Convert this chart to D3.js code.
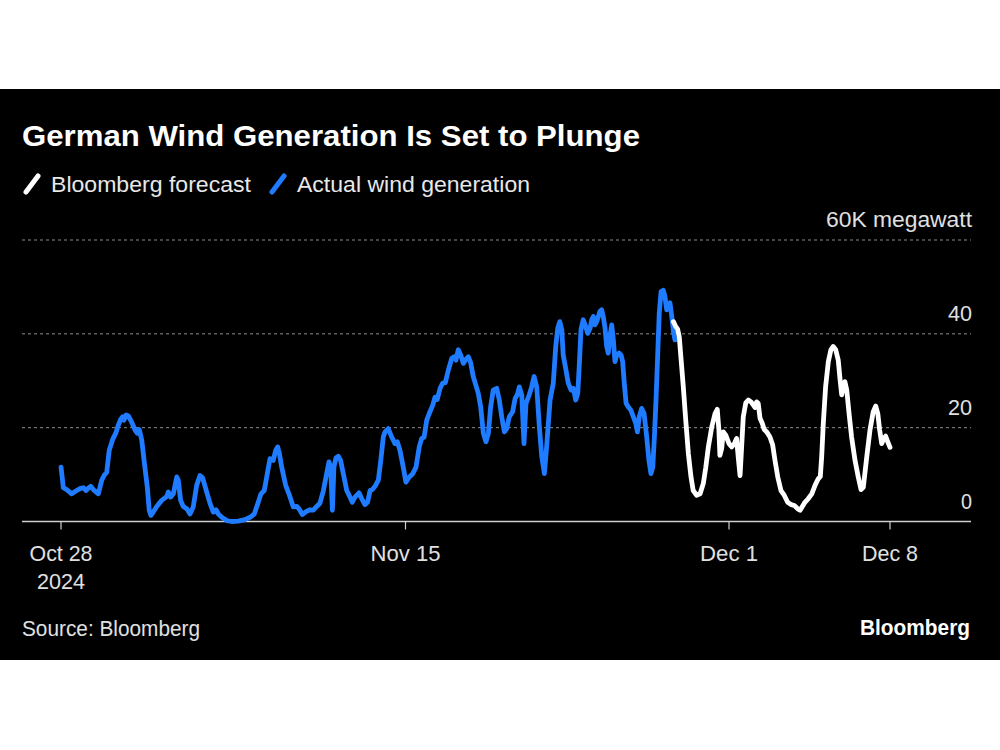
<!DOCTYPE html>
<html><head><meta charset="utf-8">
<script src="https://cdn.jsdelivr.net/npm/d3@7"></script>
<style>
body{margin:0;background:#fff;}
svg{display:block;}
text{font-family:"Liberation Sans",Arial,sans-serif;}
</style>
</head><body><svg id="chart" width="1000" height="750"></svg>
<script>
// ---- data (thousand megawatts, days since Oct 28 2024) ----
const xTickDays = [0, 18, 34, 41];
const xTickLabels = [["Oct 28", "2024"], ["Nov 15"], ["Dec 1"], ["Dec 8"]];
const yTicks = [0, 20, 40, 60];
const yTickLabels = ["0", "20", "40", "60K megawatt"];

const actualDays = [
 0,0.08,0.12,0.30,0.56,0.78,0.99,1.17,1.31,1.43,1.55,1.69,1.95,2.13,2.25,2.39,2.52,2.70,2.87,2.99,
 3.12,3.22,3.29,3.40,3.52,3.69,3.87,3.99,4.09,4.22,4.35,4.51,4.61,4.70,4.82,5.00,5.26,5.52,5.61,5.73,
 5.87,6.05,6.13,6.25,6.39,6.57,6.74,6.91,7.09,7.26,7.40,7.61,7.79,7.96,8.10,8.22,8.40,8.66,8.92,9.26,
 9.61,9.88,10.10,10.28,10.45,10.62,10.75,10.92,11.09,11.22,11.32,11.41,11.53,11.74,11.91,12.14,12.32,12.44,12.61,12.84,
 13.01,13.18,13.36,13.53,13.71,13.88,14.00,14.09,14.18,14.26,14.37,14.49,14.61,14.75,14.93,15.10,15.22,15.36,15.57,15.71,
 15.88,16.02,16.15,16.27,16.41,16.58,16.70,16.84,16.93,17.10,17.28,17.45,17.57,17.71,17.88,18.02,18.19,18.36,18.52,18.68,
 18.80,18.92,19.05,19.21,19.35,19.46,19.57,19.71,19.84,19.97,20.12,20.29,20.40,20.50,20.61,20.73,20.86,20.99,21.11,21.22,
 21.35,21.49,21.60,21.72,21.85,21.98,22.10,22.21,22.34,22.51,22.64,22.76,22.89,23.01,23.13,23.30,23.42,23.53,23.63,23.75,
 23.86,23.96,24.12,24.24,24.36,24.49,24.62,24.74,24.87,24.98,25.15,25.31,25.43,25.53,25.63,25.73,25.80,25.92,26.05,26.19,
 26.30,26.42,26.52,26.60,26.68,26.79,26.91,27.01,27.13,27.21,27.29,27.37,27.46,27.54,27.62,27.70,27.78,27.87,27.95,28.03,
 28.11,28.20,28.28,28.36,28.45,28.56,28.66,28.74,28.82,28.91,29.02,29.15,29.27,29.39,29.47,29.56,29.68,29.80,29.93,30.04,
 30.14,30.23,30.31,30.39,30.47,30.55,30.64,30.75,30.83,30.92,31.00,31.08,31.17,31.25,31.33
];
const actualValues = [
 11.6,8.8,7.2,6.8,5.9,6.5,7.0,7.2,6.6,7.1,7.5,6.8,5.9,8.8,9.8,10.5,15.2,17.5,18.9,20.5,
 21.8,22.3,21.6,22.7,22.5,21.2,19.5,18.8,19.6,17.3,12.7,7.3,2.4,1.3,2.0,3.2,4.5,5.3,6.3,5.2,
 5.9,9.5,8.8,4.5,3.2,2.7,1.6,3.1,7.7,9.8,9.3,6.3,3.8,2.0,2.5,1.6,0.9,0.2,0.0,0.1,
 0.4,0.9,1.6,3.8,5.9,6.6,9.5,13.4,13.0,15.2,15.9,14.5,11.6,7.7,5.9,3.1,3.2,2.7,1.5,2.2,
 2.5,2.4,3.2,3.9,6.6,10.2,12.7,11.6,2.4,11.6,13.6,13.9,13.0,10.2,6.6,5.2,4.1,5.2,6.1,4.9,
 3.6,4.1,6.6,6.8,7.5,8.8,12.7,18.0,19.1,19.8,18.0,16.6,17.0,15.2,11.6,8.4,9.5,10.2,11.6,15.9,
 17.7,18.0,21.6,23.4,24.8,26.5,26.0,28.4,29.5,29.6,32.3,34.8,35.1,34.4,36.6,35.5,33.7,34.6,35.1,33.9,
 30.9,28.9,27.3,24.4,18.8,17.0,18.8,24.4,28.0,28.4,25.9,22.3,19.1,19.8,22.3,23.4,26.2,27.0,28.7,27.0,
 16.6,25.2,27.0,28.7,30.9,28.7,20.2,13.8,10.2,15.9,25.9,29.5,37.3,41.2,42.6,40.9,35.5,32.7,29.5,28.0,
 28.4,25.9,27.3,33.7,40.9,43.0,41.6,40.1,41.2,43.0,43.7,41.9,42.6,43.7,44.8,45.1,43.7,41.2,37.3,35.9,
 39.4,41.9,38.7,34.1,35.5,35.9,35.5,34.1,29.5,25.2,24.4,23.7,22.3,20.9,19.1,22.3,24.1,23.0,18.0,13.0,
 10.2,11.6,18.0,25.9,35.1,44.4,49.0,49.3,48.0,45.1,46.2,46.6,43.7,40.5,38.7
];

const forecastDays = [
 31.25,31.36,31.46,31.54,31.62,31.74,31.86,31.99,32.12,32.23,32.40,32.57,32.73,32.85,32.98,33.15,33.31,33.42,33.50,33.55,
 33.64,33.72,33.84,34.00,34.12,34.23,34.33,34.40,34.48,34.55,34.62,34.73,34.84,34.96,35.06,35.13,35.20,35.27,35.35,35.45,
 35.53,35.64,35.78,35.90,36.00,36.12,36.26,36.40,36.55,36.70,36.84,36.99,37.09,37.19,37.30,37.45,37.60,37.74,37.88,37.97,
 38.03,38.10,38.20,38.32,38.43,38.53,38.64,38.75,38.83,38.90,38.97,39.04,39.12,39.22,39.33,39.48,39.62,39.74,39.84,39.99,
 40.13,40.27,40.38,40.47,40.55,40.64,40.73,40.81,40.90,41.00
];
const forecastValues = [
 42.6,41.6,41.0,39.4,35.1,28.7,21.6,14.5,9.5,6.6,5.6,5.9,8.1,11.5,15.9,20.2,23.0,23.9,19.5,14.1,
 15.6,19.1,18.4,16.6,15.9,16.6,17.7,13.8,9.8,15.9,22.3,25.3,25.9,25.5,24.8,24.3,25.5,25.2,22.0,20.9,
 19.6,19.1,18.0,16.3,13.0,9.5,6.6,5.6,4.1,3.6,3.4,2.7,2.4,3.2,4.1,4.9,5.9,7.7,9.1,9.6,
 13.8,20.9,28.7,34.1,36.6,37.3,36.6,34.4,30.2,27.0,29.1,29.8,28.0,23.0,18.0,13.0,9.5,6.8,7.3,13.8,
 19.5,23.4,24.6,23.0,19.5,16.6,17.7,18.2,17.0,15.8
];

const titleText = "German Wind Generation Is Set to Plunge";
const legendLabels = ["Bloomberg forecast", "Actual wind generation"];
const legendColors = ["#ffffff", "#1f7bff"];
const sourceText = "Source: Bloomberg";
const logoText = "Bloomberg";

// ---- drawing ----
const svg = d3.select("#chart");
const W = 1000;
const left = 22, right = 971;

function fit(sel, w) {
  sel.attr("textLength", w).attr("lengthAdjust", "spacingAndGlyphs");
  return sel;
}

svg.append("rect").attr("x", 0).attr("y", 89).attr("width", W).attr("height", 571).attr("fill", "#000");

const x = d3.scaleLinear().domain(xTickDays).range([61, 405.5, 729, 890]);
const y = d3.scaleLinear().domain([0, 60]).range([521.5, 240]);

// title
fit(svg.append("text").attr("x", 22).attr("y", 146).attr("fill", "#fff")
  .attr("font-size", 30).attr("font-weight", "bold").text(titleText), 618);

// legend
const legendX = [{slash: 26, text: 51, w: 200}, {slash: 272, text: 297, w: 233}];
legendLabels.forEach((lab, i) => {
  const L = legendX[i];
  svg.append("line").attr("x1", L.slash).attr("y1", 192).attr("x2", L.slash + 12).attr("y2", 176)
    .attr("stroke", legendColors[i]).attr("stroke-width", 5).attr("stroke-linecap", "round");
  fit(svg.append("text").attr("x", L.text).attr("y", 192).attr("fill", "#e8e8e8")
    .attr("font-size", 22.5).text(lab), L.w);
});

// gridlines
svg.append("g").selectAll("line").data(yTicks.filter(d => d > 0)).join("line")
  .attr("x1", left).attr("x2", right).attr("y1", d => y(d)).attr("y2", d => y(d))
  .attr("stroke", "#8c8c8c").attr("stroke-width", 1).attr("stroke-dasharray", "3,3");

// y labels
const yLabelW = {"0": 11, "20": 24, "40": 24, "60K megawatt": 146};
yTicks.forEach((t, i) => {
  fit(svg.append("text").attr("x", 972).attr("y", y(t) - 13).attr("text-anchor", "end")
    .attr("fill", "#e0e0e0").attr("font-size", 21.5).text(yTickLabels[i]), yLabelW[yTickLabels[i]]);
});

// x axis
svg.append("line").attr("x1", left).attr("x2", right).attr("y1", y(0)).attr("y2", y(0))
  .attr("stroke", "#cfcfcf").attr("stroke-width", 1.5);
const xLabelW = {"Oct 28": 63, "2024": 48, "Nov 15": 70, "Dec 1": 58, "Dec 8": 56};
xTickDays.forEach((d, i) => {
  svg.append("line").attr("x1", x(d)).attr("x2", x(d)).attr("y1", y(0)).attr("y2", y(0) + 8)
    .attr("stroke", "#cfcfcf").attr("stroke-width", 1.2);
  xTickLabels[i].forEach((lab, j) => {
    fit(svg.append("text").attr("x", x(d)).attr("y", y(0) + 39 + j * 28).attr("text-anchor", "middle")
      .attr("fill", "#e0e0e0").attr("font-size", 21.5).text(lab), xLabelW[lab]);
  });
});

// lines
const line = d3.line().x(p => x(p[0])).y(p => y(p[1]));
svg.append("path").datum(d3.zip(actualDays, actualValues)).attr("d", line)
  .attr("fill", "none").attr("stroke", legendColors[1]).attr("stroke-width", 4.8)
  .attr("stroke-linejoin", "round").attr("stroke-linecap", "round");
svg.append("path").datum(d3.zip(forecastDays, forecastValues)).attr("d", line)
  .attr("fill", "none").attr("stroke", legendColors[0]).attr("stroke-width", 4.8)
  .attr("stroke-linejoin", "round").attr("stroke-linecap", "round");

// footer
fit(svg.append("text").attr("x", 22).attr("y", 636).attr("fill", "#e0e0e0")
  .attr("font-size", 21.5).text(sourceText), 178);
fit(svg.append("text").attr("x", 970).attr("y", 635).attr("text-anchor", "end").attr("fill", "#fff")
  .attr("font-size", 22).attr("font-weight", "bold").text(logoText), 110);
</script>
</body></html>
